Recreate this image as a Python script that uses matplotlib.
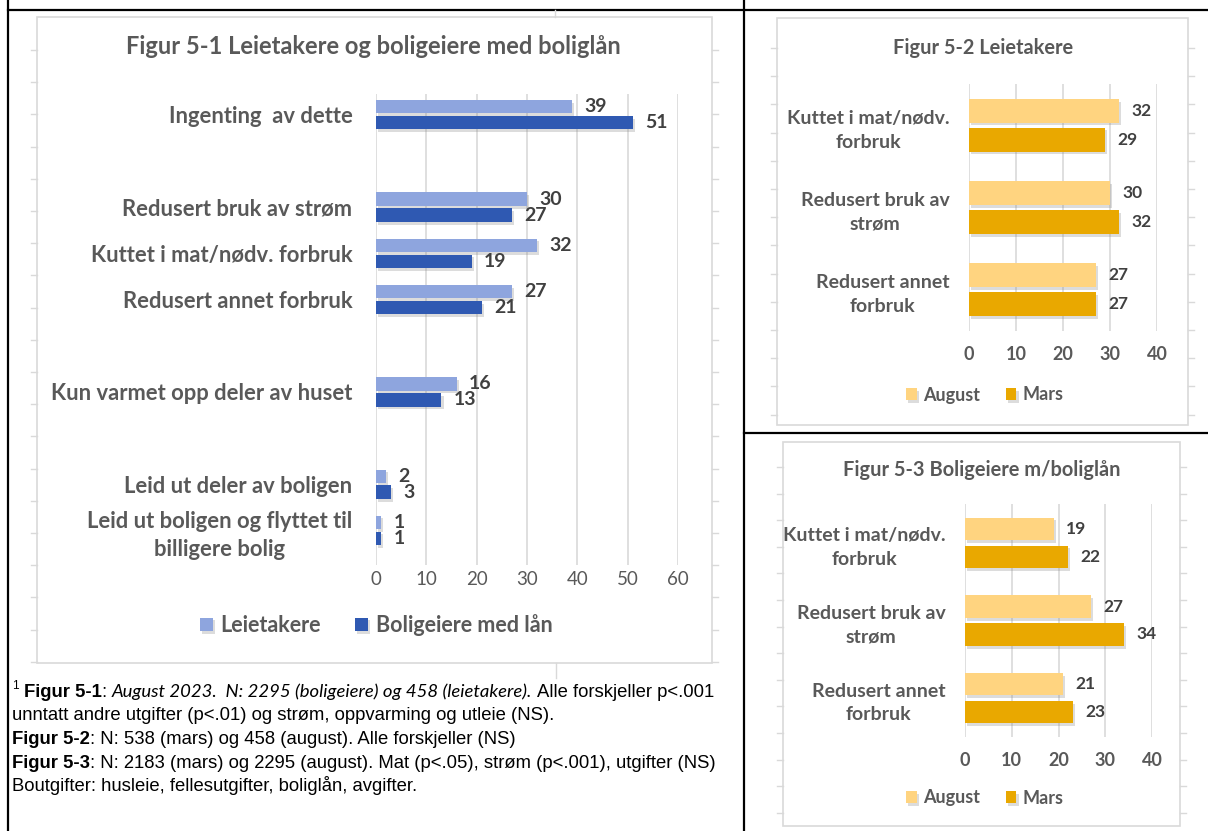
"""Recreates the three Figur 5-x bar charts with their footnote, laid out as in the report table."""

import matplotlib
import matplotlib.patheffects as pe
import matplotlib.pyplot as plt
import numpy as np
from matplotlib.patches import Rectangle

matplotlib.use("Agg")

W, H = 1208, 831
nan = np.nan

# Figur 5-1 (blank entries are the empty rows of the original chart)
fig1_title = "Figur 5-1 Leietakere og boligeiere med boliglån"
fig1_categories = [
    "Ingenting  av dette",
    "",
    "Redusert bruk av strøm",
    "Kuttet i mat/nødv. forbruk",
    "Redusert annet forbruk",
    "",
    "Kun varmet opp deler av huset",
    "",
    "Leid ut deler av boligen",
    "Leid ut boligen og flyttet til\nbilligere bolig",
]
fig1_leietakere = [39, nan, 30, 32, 27, nan, 16, nan, 2, 1]
fig1_boligeiere = [51, nan, 27, 19, 21, nan, 13, nan, 3, 1]
fig1_series = ["Leietakere", "Boligeiere med lån"]
fig1_ticks = [0, 10, 20, 30, 40, 50, 60]

# Figur 5-2 and 5-3
small_categories = [
    "Kuttet i mat/nødv.\nforbruk",
    "Redusert bruk av\nstrøm",
    "Redusert annet\nforbruk",
]
small_series = ["August", "Mars"]
small_ticks = [0, 10, 20, 30, 40]
fig2_title = "Figur 5-2 Leietakere"
fig2_august = [32, 30, 27]
fig2_mars = [29, 32, 27]
fig3_title = "Figur 5-3 Boligeiere m/boliglån"
fig3_august = [19, 27, 21]
fig3_mars = [22, 34, 23]

footnote_lines = [
    [("1", "sup"), (" Figur 5-1", "bold"), (": ", "reg"),
     ("August 2023.  N: 2295 (boligeiere) og 458 (leietakere).", "ital"),
     (" Alle forskjeller p<.001", "reg")],
    [("unntatt andre utgifter (p<.01) og strøm, oppvarming og utleie (NS).", "reg")],
    [("Figur 5-2", "bold"), (": N: 538 (mars) og 458 (august). Alle forskjeller (NS)", "reg")],
    [("Figur 5-3", "bold"),
     (": N: 2183 (mars) og 2295 (august). Mat (p<.05), strøm (p<.001), utgifter (NS)", "reg")],
    [("Boutgifter: husleie, fellesutgifter, boliglån, avgifter.", "reg")],
]

GRAY = "#595959"
LABEL = "#404040"
GRID = "#D9D9D9"
LIGHT_BLUE = "#8EA5DE"
DARK_BLUE = "#2F59B2"
AUGUST = "#FFD480"
MARS = "#E9A800"

plt.rcParams["font.family"] = ["Lato", "DejaVu Sans"]

fig = plt.figure(figsize=(W / 100, H / 100), dpi=100)
bg = fig.add_axes([0, 0, 1, 1])
bg.set_xlim(0, W)
bg.set_ylim(H, 0)
bg.axis("off")


def px_axes(x0, y0, x1, y1):
    return fig.add_axes([x0 / W, 1 - y1 / H, (x1 - x0) / W, (y1 - y0) / H])


def chart_box(x0, y0, x1, y1, tick_start, tick_step):
    bg.add_patch(Rectangle((x0, y0), x1 - x0, y1 - y0, facecolor="white",
                           edgecolor=GRID, lw=1.2, zorder=2))
    for ty in np.arange(tick_start, y1, tick_step):
        bg.plot([x0 - 6, x0], [ty, ty], color=GRID, lw=1, zorder=2)
        bg.plot([x1, x1 + 6], [ty, ty], color=GRID, lw=1, zorder=2)


# table rules
for xs, ys in [([8, 8], [0, H]), ([744, 744], [0, H]),
               ([8, W], [10, 10]), ([744, W], [433, 433])]:
    bg.plot(xs, ys, color="black", lw=1.6, zorder=1)

chart_box(37, 17, 712, 663, 50, 32.2)
chart_box(777, 18, 1188, 425, 48, 28.2)
chart_box(783, 442, 1180, 826, 467, 26.6)
bg.plot([555, 555], [10, 17], color=GRID, lw=1, zorder=2)
bg.plot([556, 556], [663, 678], color=GRID, lw=1, zorder=2)

shadow = [pe.SimplePatchShadow(offset=(1.5, -2), shadow_rgbFace="#8c8c8c", alpha=0.3),
          pe.Normal()]


def hbar_chart(ax, categories, s1, s2, colors, names, ticks, bar_h, off,
               cat_size, val_size, tick_size, tick_bold, cat_pad, tick_pad, spacing):
    y = np.arange(len(categories))
    b1 = ax.barh(y - off, s1, height=bar_h, color=colors[0], label=names[0], zorder=3)
    b2 = ax.barh(y + off, s2, height=bar_h, color=colors[1], label=names[1], zorder=3)
    for cont in (b1, b2):
        for p in cont.patches:
            p.set_path_effects(shadow)
        ax.bar_label(cont, padding=9, fontsize=val_size, fontweight="bold", color=LABEL)
    ax.set_xlim(ticks[0], ticks[-1])
    ax.set_xticks(ticks)
    ax.set_yticks(y)
    ax.set_yticklabels(categories, fontsize=cat_size, fontweight="bold", color=GRAY,
                       multialignment="center", linespacing=spacing)
    ax.grid(axis="x", color=GRID, lw=1.2, zorder=0)
    ax.set_axisbelow(True)
    for s in ax.spines.values():
        s.set_visible(False)
    ax.tick_params(axis="y", length=0, pad=cat_pad)
    ax.tick_params(axis="x", length=0, pad=tick_pad, labelsize=tick_size, labelcolor=GRAY)
    if tick_bold:
        for t in ax.get_xticklabels():
            t.set_fontweight("bold")
    ax.set_facecolor("none")
    return b1, b2


def legend(ax, cx, cy, size, colspace):
    ax.legend(loc="center", bbox_to_anchor=(cx / W, 1 - cy / H), bbox_transform=fig.transFigure,
              ncol=2, frameon=False, handlelength=0.6, handleheight=0.6, handletextpad=0.35,
              columnspacing=colspace, prop={"size": size, "weight": "bold"}, labelcolor=GRAY)


# Figur 5-1
ax1 = px_axes(376, 94, 678, 565)
hbar_chart(ax1, fig1_categories, fig1_leietakere, fig1_boligeiere, (LIGHT_BLUE, DARK_BLUE),
           fig1_series, fig1_ticks, 0.29, 0.173, 15.8, 14, 13.5, False, 17, 4, 1.38)
ax1.set_ylim(9.75, -0.45)
legend(ax1, 376, 625, 15.5, 1.6)
bg.text(373, 47, fig1_title, ha="center", va="center", fontsize=17, fontweight="bold",
        color=GRAY, zorder=5)

# Figur 5-2
ax2 = px_axes(969, 84, 1157, 331)
hbar_chart(ax2, small_categories, fig2_august, fig2_mars, (AUGUST, MARS), small_series,
           small_ticks, 0.29, 0.176, 14, 12.5, 13, True, 14, 11, 1.5)
ax2.set_ylim(2.5, -0.5)
legend(ax2, 985, 395, 13, 1.4)
bg.text(983, 48, fig2_title, ha="center", va="center", fontsize=14.4, fontweight="bold",
        color=GRAY, zorder=5)

# Figur 5-3
ax3 = px_axes(965, 504, 1152, 737)
hbar_chart(ax3, small_categories, fig3_august, fig3_mars, (AUGUST, MARS), small_series,
           small_ticks, 0.29, 0.18, 14, 12.5, 13, True, 14, 11, 1.45)
ax3.set_ylim(2.5, -0.5)
legend(ax3, 985, 798, 13, 1.4)
bg.text(982, 470, fig3_title, ha="center", va="center", fontsize=14.4, fontweight="bold",
        color=GRAY, zorder=5)

# footnote
FOOT = 13.3
styles = {
    "reg": dict(family=["Liberation Sans", "DejaVu Sans"], fontsize=FOOT),
    "bold": dict(family=["Liberation Sans", "DejaVu Sans"], fontsize=FOOT, fontweight="bold"),
    "ital": dict(family=["Lato", "DejaVu Sans"], fontsize=FOOT, style="italic"),
    "sup": dict(family=["Liberation Sans", "DejaVu Sans"], fontsize=8.5),
}
renderer = fig.canvas.get_renderer()


def text_width(s, props):
    t = bg.text(0, 0, s, **props)
    w = t.get_window_extent(renderer).width
    t.remove()
    return w


for i, pieces in enumerate(footnote_lines):
    x = 12
    base = 697 + i * 23.5
    for s, kind in pieces:
        props = styles[kind]
        lead = len(s) - len(s.lstrip(" "))
        trail = len(s) - len(s.rstrip(" "))
        space = text_width("a a", props) - text_width("aa", props)
        x += lead * space
        core = s.strip(" ")
        dy = -8 if kind == "sup" else 0
        bg.text(x, base + dy, core, ha="left", va="baseline", color="black", zorder=5, **props)
        x += text_width(core, props) + trail * space

fig.savefig("out.png", dpi=100)
